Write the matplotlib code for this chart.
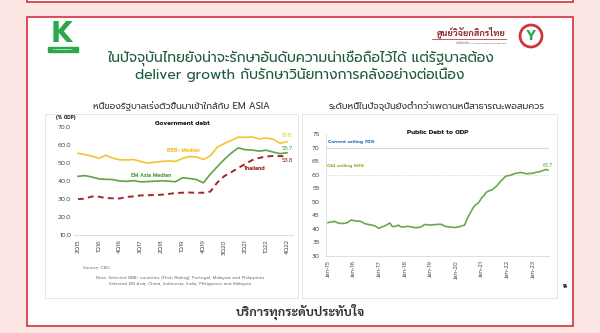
import matplotlib
matplotlib.use("Agg")
import matplotlib.pyplot as plt
from matplotlib.patches import Rectangle, Circle

plt.rcParams['font.family'] = ['Prompt', 'DejaVu Sans']

# government debt, % of GDP, quarterly 2Q15 - 4Q22
quarters = []
for yr in range(15, 23):
    for q in range(1, 5):
        quarters.append(f"{q}Q{yr}")
quarters = quarters[1:]
bbb_median = [55.4, 54.7, 53.8, 52.6, 54.3, 52.7, 51.8, 51.7, 51.9, 50.8, 50.0,
              50.4, 50.9, 51.1, 50.9, 52.5, 53.6, 53.4, 52.0, 54.0, 58.8, 60.8,
              62.5, 64.4, 64.2, 64.5, 63.4, 63.9, 63.2, 61.0, 61.8]
em_asia_median = [42.6, 43.0, 42.2, 41.2, 40.9, 40.8, 40.0, 39.8, 40.2, 39.5, 39.7,
                  39.9, 40.1, 39.9, 39.6, 41.8, 41.4, 40.8, 39.0, 43.8, 48.0, 52.0,
                  55.5, 58.4, 57.4, 57.2, 56.6, 57.1, 56.1, 55.2, 55.7]
thailand = [29.9, 30.2, 31.4, 31.3, 30.5, 30.4, 30.3, 31.2, 31.4, 32.0, 32.1,
            32.2, 32.4, 32.8, 33.3, 33.5, 33.6, 33.4, 33.5, 34.1, 39.2, 42.7,
            44.9, 47.2, 49.5, 51.6, 52.8, 53.6, 53.9, 53.8, 53.8]

# public debt to GDP, monthly Jan-15 - Aug-23
public_debt = [42.3, 42.5, 42.6, 42.8, 42.4, 42.1, 42.0, 42.0, 42.1, 42.3, 42.8, 43.3,
               43.1, 42.9, 42.9, 42.8, 42.5, 42.0, 41.8, 41.6, 41.5, 41.3, 41.1, 40.6,
               40.2, 40.7, 40.9, 41.3, 41.7, 42.2, 40.9, 40.9, 41.0, 41.4, 40.8, 40.7,
               40.8, 40.9, 40.9, 40.7, 40.6, 40.4, 40.5, 40.6, 40.9, 41.5, 41.6, 41.5,
               41.4, 41.5, 41.6, 41.6, 41.7, 41.7, 41.3, 40.9, 40.8, 40.7, 40.6, 40.5,
               40.6, 40.7, 40.9, 41.2, 41.4, 43.5, 45.0, 46.4, 47.8, 48.8, 49.3, 50.2,
               51.5, 52.2, 53.4, 53.9, 54.2, 54.5, 55.2, 55.8, 56.8, 57.7, 58.4, 59.3,
               59.6, 59.7, 59.9, 60.3, 60.5, 60.6, 60.8, 60.7, 60.5, 60.3, 60.4, 60.5,
               60.5, 60.8, 61.0, 61.0, 61.4, 61.6, 61.9, 61.7]
year_ticks = ["Jan-15", "Jan-16", "Jan-17", "Jan-18", "Jan-19", "Jan-20", "Jan-21", "Jan-22", "Jan-23"]
ceiling_now = 70
ceiling_old = 60

title1 = "ในปัจจุบันไทยยังน่าจะรักษาอันดับความน่าเชื่อถือไว้ได้ แต่รัฐบาลต้อง"
title2 = "deliver growth กับรักษาวินัยทางการคลังอย่างต่อเนื่อง"
sub_left = "หนี้ของรัฐบาลเร่งตัวขึ้นมาเข้าใกล้กับ EM ASIA"
sub_right = "ระดับหนี้ในปัจจุบันยังต่ำกว่าเพดานหนี้สาธารณะพอสมควร"
footer = "บริการทุกระดับประทับใจ"

YELLOW = "#f3c431"
GREEN = "#5da447"
DRED = "#a3282b"
LGREEN = "#6aa84f"
GRAYTXT = "#595959"

W, H = 600, 333
fig = plt.figure(figsize=(6, 3.33), dpi=100)

# page layer in pixel coordinates
bg = fig.add_axes([0, 0, 1, 1], zorder=0)
bg.set_xlim(0, W)
bg.set_ylim(H, 0)
bg.axis("off")
bg.add_patch(Rectangle((0, 0), W, H, color="#fbe6e4"))
bg.add_patch(Rectangle((27, -10), 546, 12, facecolor="white", edgecolor="#d0353b", lw=1.2))
bg.add_patch(Rectangle((27, 17), 546, 309, facecolor="white", edgecolor="#d0353b", lw=1.2))
bg.add_patch(Rectangle((45, 114), 253, 184, facecolor="white", edgecolor="#e2e2e2", lw=0.6))
bg.add_patch(Rectangle((302, 114), 255, 184, facecolor="white", edgecolor="#e2e2e2", lw=0.6))

# bank logo
bg.text(63, 35, "K", color="#2aa84a", fontsize=22, fontweight="bold", ha="center", va="center")
bg.add_patch(Rectangle((48, 47), 30, 5, color="#2aa84a"))
bg.text(63, 49.5, "KASIKORNTHAI", color="white", fontsize=1.9, fontweight="bold", ha="center", va="center")
# research centre logo
bg.text(506, 32, "ศูนย์วิจัยกสิกรไทย", color="#8b2a2a", fontsize=6.5, fontweight="bold",
        ha="right", va="center", family=["Sarabun", "DejaVu Sans"])
bg.plot([432, 506], [38.5, 38.5], color="#c04040", lw=0.6)
bg.text(506, 42, "บริษัทในเครือ KASIKORN RESEARCH CENTER", color="#666666", fontsize=1.8, ha="right", va="center")
bg.add_patch(Circle((531, 36), 11, facecolor="white", edgecolor="#d0353b", lw=2))
bg.text(531, 37, "Y", color="#2aa84a", fontsize=10, fontweight="bold", ha="center", va="center")

bg.text(300, 58, title1, color="#1d5a3a", fontsize=10, ha="center", va="center")
bg.text(300, 75, title2, color="#1d5a3a", fontsize=10, ha="center", va="center")
bg.text(181, 106, sub_left, color="#333333", fontsize=6.6, ha="center", va="center")
bg.text(437, 106, sub_right, color="#333333", fontsize=6.6, ha="center", va="center")
bg.text(66, 118, "(% GDP)", color="#333333", fontsize=3.5, fontweight="bold", ha="center", va="center")
bg.text(83, 268, "Source: CEIC", color="#777777", fontsize=3.2, ha="left", va="center")
bg.text(180, 278, "Note: Selected BBB+ countries (Fitch Rating); Portugal, Malaysia and Philippines",
        color="#777777", fontsize=3.1, ha="center", va="center")
bg.text(180, 284.5, "Selected EM Asia; China, Indonesia, India, Philippines and Malaysia",
        color="#777777", fontsize=3.1, ha="center", va="center")
bg.text(565, 287, "14", color="black", fontsize=3.5, fontweight="bold", ha="center", va="center")
bg.text(300, 312, footer, color="#333333", fontsize=9, fontweight="bold", ha="center", va="center",
        family=["Sarabun", "DejaVu Sans"])


def box(l, t, r, b):
    return [l / W, 1 - b / H, (r - l) / W, (b - t) / H]


# left chart
ax = fig.add_axes(box(74, 127, 293, 235), zorder=1)
ax.set_facecolor("none")
x = range(len(quarters))
ax.plot(x, bbb_median, color=YELLOW, lw=1.2)
ax.plot(x, em_asia_median, color=GREEN, lw=1.2)
ax.plot(x, thailand, color=DRED, lw=1.4, dashes=(3, 2.2))
ax.set_xlim(-0.57, 30.86)
ax.set_ylim(10, 70)
ax.set_yticks(range(10, 71, 10))
ax.set_yticklabels([f"{v:.1f}" for v in range(10, 71, 10)])
ax.set_xticks(list(x)[::3])
ax.set_xticklabels(quarters[::3], rotation=90)
for s in ["top", "right", "left"]:
    ax.spines[s].set_visible(False)
ax.spines["bottom"].set_color("#d9d9d9")
ax.spines["bottom"].set_linewidth(0.6)
ax.tick_params(length=0, labelsize=4.6, labelcolor=GRAYTXT, pad=2)
ax.tick_params(axis="x", labelsize=4.2, pad=3)
ax.text(15.0, 71.7, "Government debt", fontsize=4.5, fontweight="bold", color="#222222", ha="center", va="center")
ax.text(15.1, 57.2, "BBB+ Median", fontsize=3.7, fontweight="bold", color=YELLOW, ha="center", va="center")
ax.text(10.5, 42.8, "EM Asia Median", fontsize=3.7, fontweight="bold", color=GREEN, ha="center", va="center")
ax.text(25.3, 46.7, "Thailand", fontsize=3.7, fontweight="bold", color=DRED, ha="center", va="center")
last = len(quarters) - 1
ax.annotate(f"{bbb_median[-1]:.1f}", (last, bbb_median[-1]), xytext=(0, 2.5), textcoords="offset points",
            ha="center", va="bottom", fontsize=4.2, color=YELLOW)
ax.annotate(f"{em_asia_median[-1]:.1f}", (last, em_asia_median[-1]), xytext=(0, 1), textcoords="offset points",
            ha="center", va="bottom", fontsize=4.2, color=GREEN)
ax.annotate(f"{thailand[-1]:.1f}", (last, thailand[-1]), xytext=(0, -1.5), textcoords="offset points",
            ha="center", va="top", fontsize=4.2, color=DRED)

# right chart
ax2 = fig.add_axes(box(326, 134, 549, 256), zorder=1)
ax2.set_facecolor("none")
m = range(len(public_debt))
ax2.axhline(ceiling_now, color="#d9d9d9", lw=0.8)
ax2.axhline(ceiling_old, color="#bfbfbf", lw=0.5, ls=(0, (1, 1.5)))
ax2.plot(m, public_debt, color=LGREEN, lw=1.2)
ax2.set_xlim(-0.94, 103.5)
ax2.set_ylim(30, 75)
ax2.set_yticks(range(30, 76, 5))
ax2.set_xticks(range(0, 97, 12))
ax2.set_xticklabels(year_ticks, rotation=90)
for s in ["top", "right"]:
    ax2.spines[s].set_visible(False)
for s in ["left", "bottom"]:
    ax2.spines[s].set_color("#d9d9d9")
    ax2.spines[s].set_linewidth(0.6)
ax2.tick_params(length=0, labelsize=4.6, labelcolor=GRAYTXT, pad=4.5)
ax2.tick_params(axis="x", labelsize=4.2, pad=3)
ax2.text(51.5, 75.7, "Public Debt to GDP", fontsize=4.7, fontweight="bold", color="#222222", ha="center", va="center")
ax2.text(0, 72.2, f"Current ceiling {ceiling_now}%", fontsize=3.4, fontweight="bold", color="#2f6db4", ha="left", va="center")
ax2.text(-0.5, 63.3, f"Old ceiling {ceiling_old}%", fontsize=3.4, fontweight="bold", color="#aca53a", ha="left", va="center")
ax2.annotate(f"{public_debt[-1]:.1f}", (len(public_debt) - 1, public_debt[-1]), xytext=(0, 1.5),
             textcoords="offset points", ha="center", va="bottom", fontsize=4.2, color=LGREEN)

fig.savefig("out.png", dpi=100)
